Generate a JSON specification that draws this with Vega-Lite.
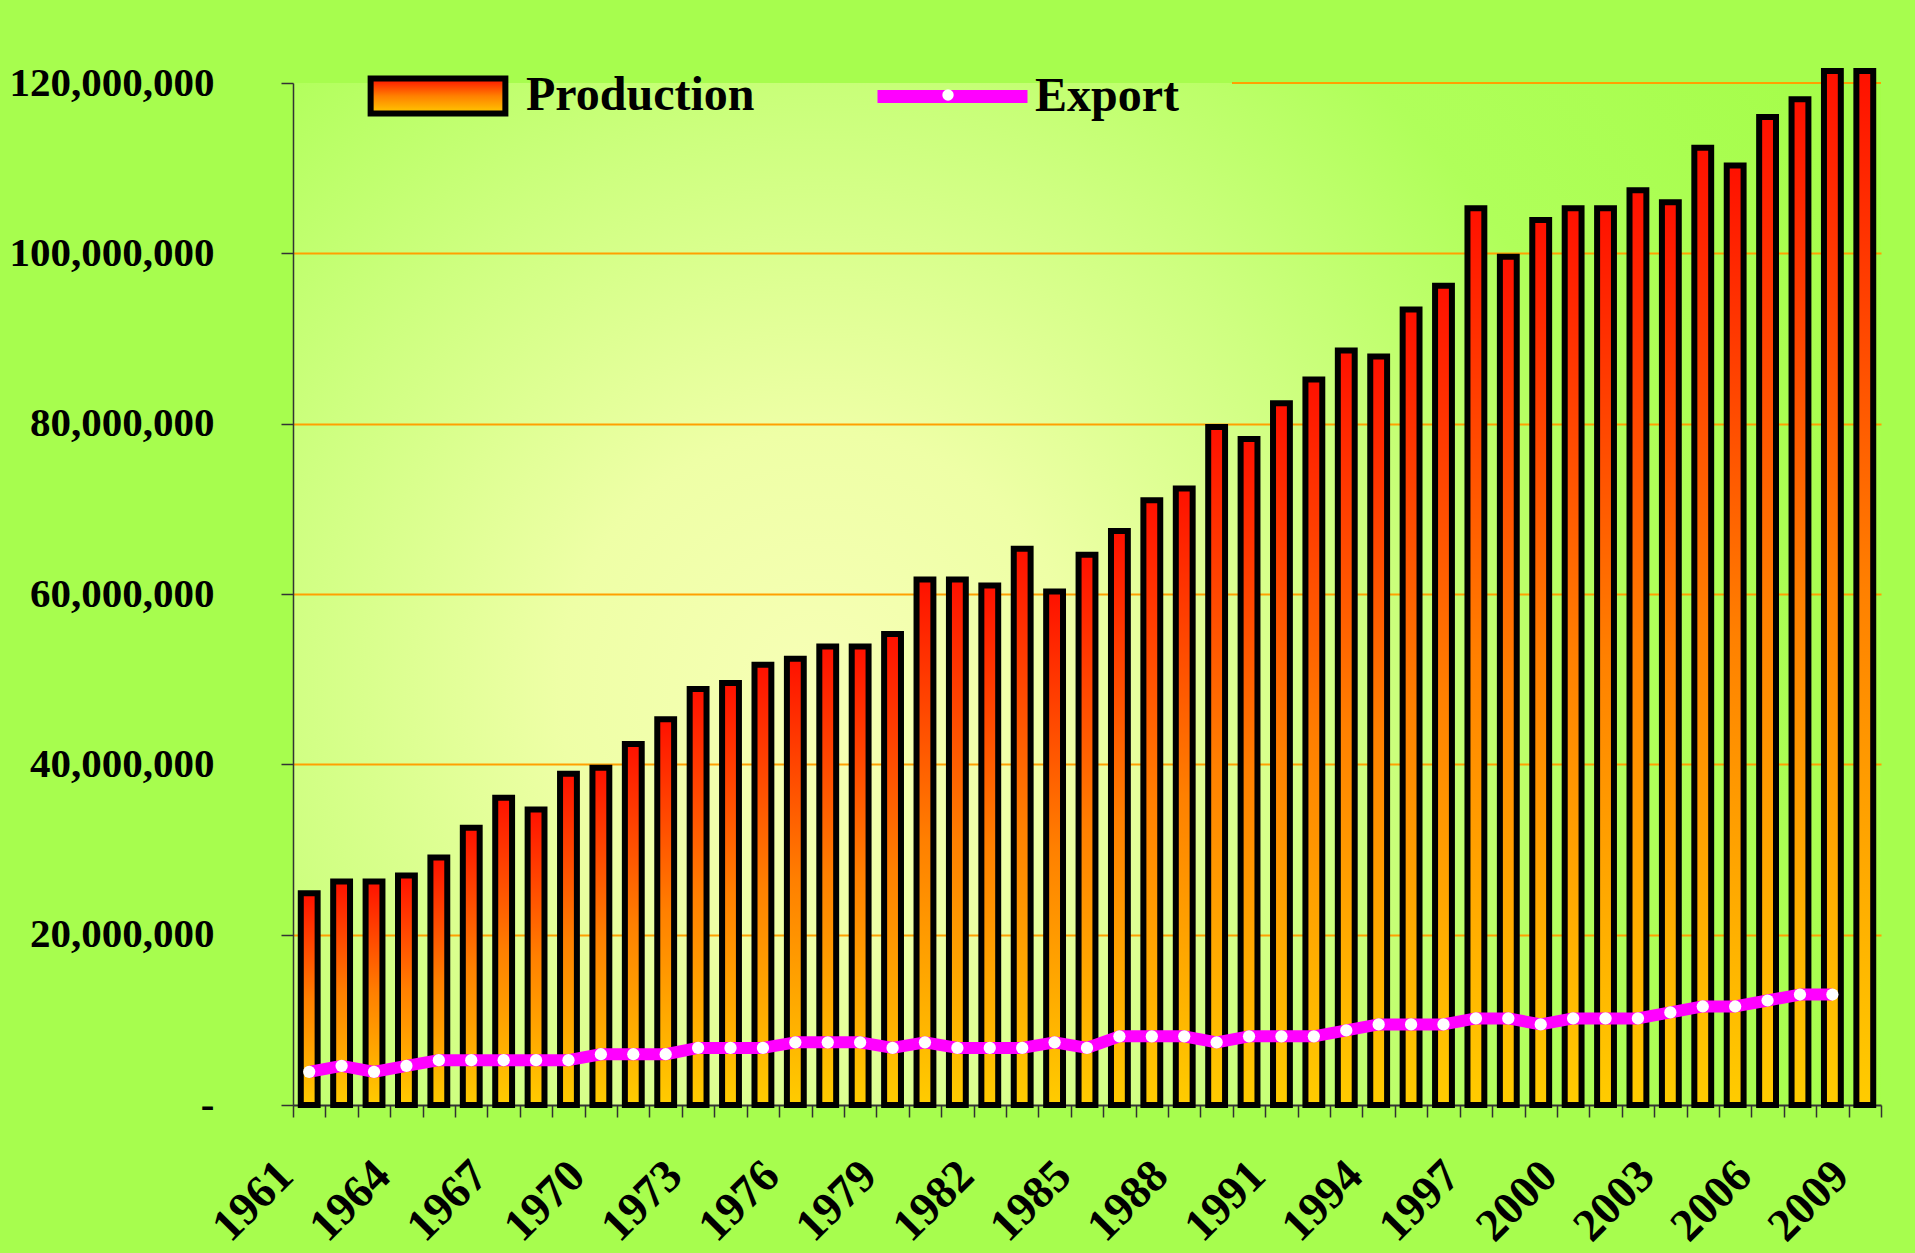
{
  "$schema": "https://vega.github.io/schema/vega-lite/v6.json",
  "width": 1588,
  "height": 1022,
  "autosize": {"type": "none"},
  "padding": {"left": 293, "top": 83, "right": 34, "bottom": 148},
  "background": "#a7fd4e",
  "config": {
    "font": "Liberation Serif",
    "view": {
      "stroke": null,
      "fill": {
        "gradient": "radial",
        "x1": 0.33, "y1": 0.56, "r1": 0,
        "x2": 0.33, "y2": 0.56, "r2": 0.74,
        "stops": [
          {"offset": 0, "color": "#f7ffb6"},
          {"offset": 0.22, "color": "#eeffa6"},
          {"offset": 0.47, "color": "#ceff80"},
          {"offset": 0.7, "color": "#b0ff5a"},
          {"offset": 1, "color": "#a5fd4a"}
        ]
      }
    },
    "legend": {
      "labelFont": "Liberation Serif",
      "labelFontWeight": "bold",
      "labelFontSize": 48,
      "labelColor": "black",
      "labelLimit": 500,
      "padding": 0,
      "orient": "none"
    }
  },
  "data": {
    "values": [
      {"year": 1961, "production": 24850000, "export": 3890000},
      {"year": 1962, "production": 26250000, "export": 4600000},
      {"year": 1963, "production": 26250000, "export": 3890000},
      {"year": 1964, "production": 26950000, "export": 4600000},
      {"year": 1965, "production": 29060000, "export": 5260000},
      {"year": 1966, "production": 32560000, "export": 5260000},
      {"year": 1967, "production": 36070000, "export": 5260000},
      {"year": 1968, "production": 34700000, "export": 5260000},
      {"year": 1969, "production": 38900000, "export": 5260000},
      {"year": 1970, "production": 39600000, "export": 5960000},
      {"year": 1971, "production": 42400000, "export": 5960000},
      {"year": 1972, "production": 45300000, "export": 5960000},
      {"year": 1973, "production": 48850000, "export": 6700000},
      {"year": 1974, "production": 49550000, "export": 6700000},
      {"year": 1975, "production": 51700000, "export": 6700000},
      {"year": 1976, "production": 52400000, "export": 7360000},
      {"year": 1977, "production": 53850000, "export": 7360000},
      {"year": 1978, "production": 53850000, "export": 7360000},
      {"year": 1979, "production": 55300000, "export": 6700000},
      {"year": 1980, "production": 61700000, "export": 7360000},
      {"year": 1981, "production": 61700000, "export": 6700000},
      {"year": 1982, "production": 61000000, "export": 6700000},
      {"year": 1983, "production": 65300000, "export": 6700000},
      {"year": 1984, "production": 60300000, "export": 7360000},
      {"year": 1985, "production": 64600000, "export": 6700000},
      {"year": 1986, "production": 67400000, "export": 8060000},
      {"year": 1987, "production": 71000000, "export": 8060000},
      {"year": 1988, "production": 72400000, "export": 8060000},
      {"year": 1989, "production": 79600000, "export": 7360000},
      {"year": 1990, "production": 78200000, "export": 8060000},
      {"year": 1991, "production": 82400000, "export": 8060000},
      {"year": 1992, "production": 85200000, "export": 8060000},
      {"year": 1993, "production": 88600000, "export": 8760000},
      {"year": 1994, "production": 87900000, "export": 9460000},
      {"year": 1995, "production": 93400000, "export": 9460000},
      {"year": 1996, "production": 96200000, "export": 9460000},
      {"year": 1997, "production": 105300000, "export": 10170000},
      {"year": 1998, "production": 99600000, "export": 10170000},
      {"year": 1999, "production": 103900000, "export": 9460000},
      {"year": 2000, "production": 105300000, "export": 10170000},
      {"year": 2001, "production": 105300000, "export": 10170000},
      {"year": 2002, "production": 107400000, "export": 10170000},
      {"year": 2003, "production": 106000000, "export": 10870000},
      {"year": 2004, "production": 112400000, "export": 11570000},
      {"year": 2005, "production": 110300000, "export": 11570000},
      {"year": 2006, "production": 116000000, "export": 12270000},
      {"year": 2007, "production": 118100000, "export": 12970000},
      {"year": 2008, "production": 121400000, "export": 12970000},
      {"year": 2009, "production": 121400000, "export": null}
    ]
  },
  "layer": [
    {
      "mark": {"type": "rule", "color": "#ffa000", "strokeWidth": 2},
      "encoding": {
        "x": {"datum": 1990, "type": "ordinal", "bandPosition": 0},
        "x2": {"datum": 2009, "bandPosition": 1},
        "y": {"datum": 120000000, "type": "quantitative"}
      }
    },
    {
      "mark": {
        "type": "bar",
        "width": {"band": 0.52},
        "strokeWidth": 6,
        "fill": {
          "gradient": "linear",
          "x1": 0, "y1": 0, "x2": 0, "y2": 1,
          "stops": [
            {"offset": 0, "color": "#ff1000"},
            {"offset": 0.5, "color": "#ff8000"},
            {"offset": 1, "color": "#ffcc00"}
          ]
        }
      },
      "encoding": {
        "x": {
          "field": "year",
          "type": "ordinal",
          "title": null,
          "scale": {"paddingInner": 0, "paddingOuter": 0},
          "axis": {
            "labelAngle": -45,
            "labelAlign": "right",
            "labelBaseline": "middle",
            "labelFont": "Liberation Serif",
            "labelFontWeight": "bold",
            "labelFontSize": 46,
            "labelColor": "black",
            "labelExpr": "(datum.value - 1961) % 3 == 0 ? datum.label : ''",
            "labelOffset": -24,
            "labelPadding": 51,
            "labelOverlap": false,
            "labelBound": false,
            "tickBand": "extent",
            "tickSize": 12,
            "tickColor": "#333333",
            "tickWidth": 1.5,
            "domainColor": "#333333",
            "domainWidth": 2,
            "grid": false
          }
        },
        "y": {
          "field": "production",
          "type": "quantitative",
          "title": null,
          "scale": {"domain": [0, 120000000], "nice": false},
          "axis": {
            "values": [0, 20000000, 40000000, 60000000, 80000000, 100000000, 120000000],
            "labelExpr": "datum.value == 0 ? '-\u00a0' : format(datum.value, ',')",
            "labelFont": "Liberation Serif",
            "labelFontWeight": "bold",
            "labelFontSize": 41,
            "labelColor": "black",
            "labelLimit": 400,
            "labelPadding": 67,
            "tickSize": 12,
            "tickColor": "#333333",
            "tickWidth": 1.5,
            "domainColor": "#333333",
            "domainWidth": 1.5,
            "grid": true,
            "gridWidth": 2,
            "gridColor": {"condition": {"test": "datum.value >= 120000000 || datum.value == 0", "value": "transparent"}, "value": "#ffa000"}
          }
        },
        "stroke": {
          "datum": "Production",
          "type": "nominal",
          "scale": {"range": ["black"]},
          "legend": {
            "title": null,
            "orient": "none",
            "legendX": 121,
            "legendY": -11,
            "symbolType": "M-3.85,-1H3.85V1H-3.85Z",
            "symbolSize": 1225,
            "symbolStrokeWidth": 6,
            "labelOffset": 64,
            "zindex": 2
          }
        }
      }
    },
    {
      "mark": {"type": "line", "strokeWidth": 12, "strokeJoin": "bevel"},
      "encoding": {
        "x": {"field": "year", "type": "ordinal", "title": null},
        "y": {"field": "export", "type": "quantitative", "title": null},
        "color": {
          "datum": "Export",
          "type": "nominal",
          "scale": {"range": ["#ff00ff"]},
          "legend": {
            "title": null,
            "orient": "none",
            "legendX": 634,
            "legendY": -12,
            "symbolType": "M-4,0H4",
            "symbolSize": 1406,
            "symbolStrokeWidth": 13,
            "labelOffset": 57,
            "zindex": 2
          }
        }
      }
    },
    {
      "mark": {"type": "point", "filled": true, "fill": "white", "strokeWidth": 0, "size": 150, "opacity": 1},
      "encoding": {
        "x": {"field": "year", "type": "ordinal", "title": null},
        "y": {"field": "export", "type": "quantitative", "title": null},
        "shape": {
          "datum": "Export marker",
          "type": "nominal",
          "scale": {"range": ["circle"]},
          "legend": {
            "title": null,
            "orient": "none",
            "legendX": 631,
            "legendY": -12,
            "symbolSize": 130,
            "symbolFillColor": "white",
            "symbolStrokeWidth": 0,
            "labelExpr": "'\u00a0'",
            "zindex": 3
          }
        }
      }
    }
  ]
}
